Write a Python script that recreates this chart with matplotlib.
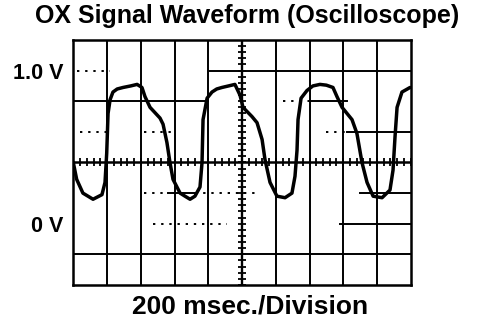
import numpy as np
import matplotlib
matplotlib.use("Agg")
import matplotlib.pyplot as plt

plt.rcParams['font.family'] = ['Liberation Sans', 'DejaVu Sans']

# waveform (time in ms, signal in V)
time_ms = [0, 20, 57, 117, 170, 188, 198, 206, 218, 235, 260, 295, 340, 378, 407,
           425, 455, 514, 532, 555, 573, 591, 633, 662, 692, 721, 751, 763, 769,
           793, 822, 850, 881, 920, 958, 988, 1006, 1059, 1089, 1119, 1136, 1166,
           1207, 1255, 1296, 1314, 1326, 1332, 1350, 1385, 1420, 1462, 1500, 1539,
           1563, 1593, 1652, 1681, 1711, 1741, 1777, 1830, 1877, 1895, 1907, 1919,
           1948, 1996]
volts = [0.40, 0.29, 0.20, 0.16, 0.19, 0.27, 0.46, 0.72, 0.81, 0.86, 0.88, 0.89,
         0.90, 0.91, 0.89, 0.83, 0.76, 0.69, 0.65, 0.53, 0.40, 0.29, 0.20, 0.18,
         0.16, 0.18, 0.24, 0.40, 0.68, 0.82, 0.86, 0.88, 0.89, 0.90, 0.91, 0.84,
         0.76, 0.70, 0.66, 0.55, 0.42, 0.27, 0.18, 0.17, 0.20, 0.31, 0.48, 0.68,
         0.82, 0.87, 0.90, 0.91, 0.905, 0.89, 0.83, 0.76, 0.68, 0.59, 0.40, 0.27,
         0.18, 0.17, 0.22, 0.35, 0.57, 0.76, 0.86, 0.89]

y_labels = ["0 V", "1.0 V"]
y_label_pos = [0.0, 1.0]

fig = plt.figure(figsize=(4.8, 3.2), dpi=100)
ax = fig.add_axes([0.1527, 0.1094, 0.703, 0.7656])
ax.set_xlim(0, 2000)
ax.set_ylim(-0.4, 1.2)

# vertical divisions
for x in np.arange(200, 2000, 200):
    ax.axvline(x, color='black', lw=1.4 if x != 1000 else 1.7)

# horizontal divisions, some only partly traced like on the scope photo
def hseg(y, x0, x1, style='-'):
    ax.plot([x0, x1], [y, y], color='black', lw=1.4, ls=style,
            dashes=(1.2, 3) if style == ':' else (None, None))

hseg(1.0, 20, 220, ':'); hseg(1.0, 810, 2000)
hseg(0.8, 0, 800); hseg(0.8, 1240, 1400, ':'); hseg(0.8, 1400, 1620)
hseg(0.6, 40, 200, ':'); hseg(0.6, 420, 600, ':'); hseg(0.6, 1500, 1620, ':'); hseg(0.6, 1620, 2000)
ax.axhline(0.4, color='black', lw=1.8)
hseg(0.2, 420, 560, ':'); hseg(0.2, 560, 720); hseg(0.2, 720, 1100, ':'); hseg(0.2, 1700, 2000)
hseg(0.0, 470, 910, ':'); hseg(0.0, 1580, 2000)
hseg(-0.2, 0, 2000)

# small ticks on the centre lines
tx = np.arange(0, 2001, 40)
ax.plot(tx, np.full(len(tx), 0.4), ls='none', marker='|', ms=6, mew=1.3, color='black')
ty = np.arange(-0.4, 1.21, 0.04)
ax.plot(np.full(len(ty), 1000), ty, ls='none', marker='_', ms=6, mew=1.3, color='black')

ax.plot(time_ms, volts, color='black', lw=2.5, solid_capstyle='round',
        solid_joinstyle='round')

for s in ax.spines.values():
    s.set_linewidth(1.8)
ax.set_xticks([])
ax.set_yticks(y_label_pos)
ax.set_yticklabels(y_labels, fontsize=15.5, fontweight='bold')
ax.tick_params(axis='y', length=0, pad=7)
fig.text(0.521, 1 - 313 / 320, "200 msec./Division", fontsize=19,
         fontweight='bold', ha='center', va='baseline')
fig.text(0.514, 1 - 23.5 / 320, "OX Signal Waveform (Oscilloscope)", fontsize=18,
         fontweight='bold', ha='center', va='baseline')

fig.savefig("out.png", dpi=100)
